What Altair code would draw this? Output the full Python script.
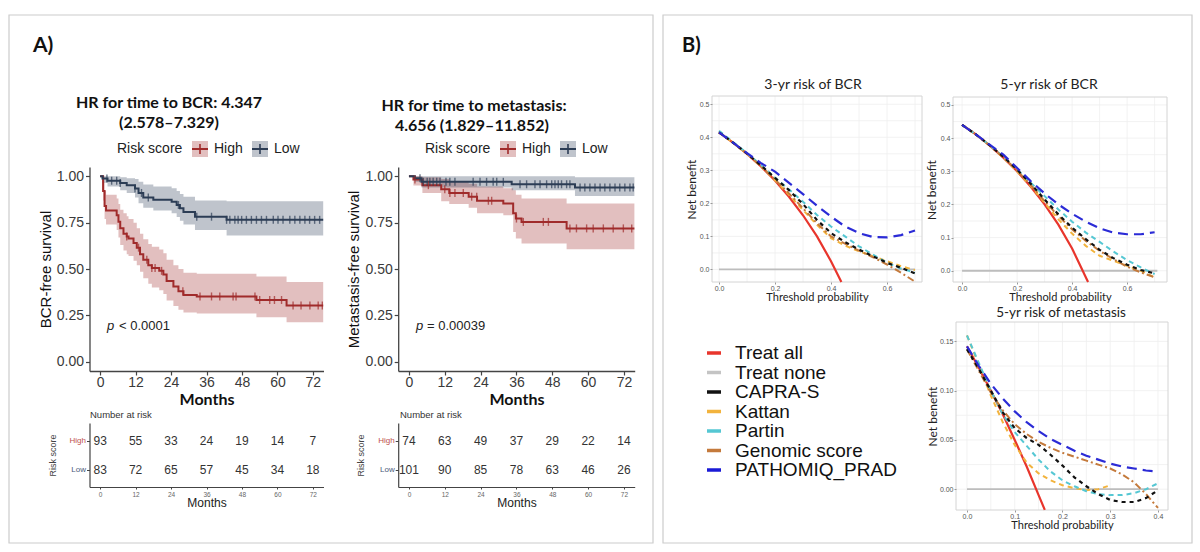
import altair as alt
import pandas as pd

W, H = 1200, 552
LATO = "Lato"
SANS = "Liberation Sans"

# ---------------- Kaplan-Meier step curves (months, survival, lower CI, upper CI) ----------------
bcr_high_t = [0, 1.0, 1.5, 2.0, 5.6, 6.2, 6.8, 7.9, 9.0, 9.6, 11.3, 12.4, 13.5, 14.6, 16.3, 17.5, 20.0, 21.4, 22.5, 24.8, 26.5, 28.2, 32.7, 52.9, 63.1, 75.5]
bcr_high_s = [1.0, 0.92, 0.84, 0.815, 0.79, 0.755, 0.72, 0.69, 0.675, 0.665, 0.64, 0.615, 0.58, 0.55, 0.52, 0.505, 0.49, 0.47, 0.435, 0.405, 0.38, 0.36, 0.352, 0.333, 0.303, 0.303]
bcr_high_lo = [1.0, 0.87, 0.77, 0.74, 0.71, 0.67, 0.63, 0.60, 0.58, 0.57, 0.545, 0.52, 0.485, 0.45, 0.42, 0.40, 0.385, 0.365, 0.33, 0.30, 0.28, 0.265, 0.26, 0.24, 0.213, 0.213]
bcr_high_hi = [1.0, 0.97, 0.92, 0.90, 0.88, 0.85, 0.82, 0.80, 0.785, 0.77, 0.75, 0.72, 0.69, 0.66, 0.635, 0.62, 0.605, 0.585, 0.55, 0.52, 0.50, 0.48, 0.475, 0.46, 0.43, 0.43]

bcr_low_t = [0, 0.8, 2.5, 6.8, 9.0, 11.8, 13.0, 14.6, 18.0, 24.2, 25.9, 27.0, 28.2, 32.1, 42.8, 75.5]
bcr_low_s = [1.0, 0.988, 0.976, 0.964, 0.952, 0.934, 0.91, 0.886, 0.874, 0.862, 0.845, 0.827, 0.808, 0.782, 0.765, 0.765]
bcr_low_lo = [1.0, 0.965, 0.945, 0.925, 0.91, 0.885, 0.855, 0.83, 0.815, 0.80, 0.78, 0.76, 0.74, 0.71, 0.68, 0.68]
bcr_low_hi = [1.0, 1.0, 1.0, 0.995, 0.99, 0.985, 0.97, 0.955, 0.945, 0.935, 0.92, 0.905, 0.89, 0.87, 0.865, 0.865]

met_high_t = [0, 1.5, 4.5, 10.8, 13.5, 20.0, 22.8, 31.6, 34.9, 35.8, 37.7, 52.8, 75.5]
met_high_s = [1.0, 0.983, 0.952, 0.93, 0.91, 0.89, 0.868, 0.853, 0.80, 0.772, 0.754, 0.719, 0.719]
met_high_lo = [1.0, 0.95, 0.91, 0.865, 0.85, 0.83, 0.80, 0.79, 0.70, 0.665, 0.638, 0.606, 0.606]
met_high_hi = [1.0, 1.0, 0.995, 0.985, 0.975, 0.96, 0.945, 0.935, 0.925, 0.90, 0.88, 0.853, 0.853]

met_low_t = [0, 2.0, 4.2, 34.4, 55.6, 75.5]
met_low_s = [1.0, 0.99, 0.97, 0.957, 0.939, 0.939]
met_low_lo = [1.0, 0.97, 0.94, 0.925, 0.893, 0.893]
met_low_hi = [1.0, 1.0, 1.0, 1.0, 0.995, 0.995]

# censoring times (months)
bcr_high_cens = [9, 13, 15.8, 17.5, 18.6, 20.8, 28, 33.8, 37.7, 40.5, 45, 46, 52.4, 54, 57.4, 59, 61.4, 65.3, 68, 71, 73.8, 75.2]
bcr_low_cens = [2.3, 3.9, 5.6, 6.8, 11.8, 14, 16.3, 26.5, 32.7, 37.7, 42.8, 43.9, 45.6, 46.7, 47.9, 49.5, 51.2, 52.9, 54.6, 56.3, 58.6, 60.2, 61.9, 64.2, 65.9, 67.6, 69.3, 70.9, 72.6, 74.3]
met_high_cens = [2, 6.5, 12, 13.7, 15.4, 18.2, 21, 22.7, 26.6, 27.7, 36, 38.3, 45, 46.7, 53.9, 56.1, 59.5, 61.7, 65.1, 68.4, 71.8, 74.6]
met_low_cens = [3.7, 4.8, 6.1, 7, 8.1, 9.3, 10.4, 12.4, 13.7, 15.4, 21.5, 23.8, 26, 28.2, 29.4, 31.6, 37.2, 39.4, 42.2, 43.9, 46.1, 47.8, 48.9, 50, 51.1, 52.8, 53.9, 57.3, 58.9, 60.6, 62.3, 64, 65.6, 67.3, 69, 70.6, 72.3, 74, 75.1]

# numbers at risk
months_ticks = [0, 12, 24, 36, 48, 60, 72]
bcr_risk_high = [93, 55, 33, 24, 19, 14, 7]
bcr_risk_low = [83, 72, 65, 57, 45, 34, 18]
met_risk_high = [74, 63, 49, 37, 29, 22, 14]
met_risk_low = [101, 90, 85, 78, 63, 46, 26]

# ---------------- decision curves (threshold probability, net benefit) ----------------
models = ["Treat all", "Treat none", "CAPRA-S", "Kattan", "Partin", "Genomic score", "PATHOMIQ_PRAD"]

t_bcr = [0.0, 0.05, 0.1, 0.15, 0.2, 0.25, 0.3, 0.35, 0.4, 0.45, 0.5, 0.55, 0.6, 0.65, 0.7]

bcr3_all_t = [0.0, 0.05, 0.1, 0.15, 0.2, 0.25, 0.3, 0.35, 0.4, 0.437]
bcr3_all = [0.415, 0.384, 0.350, 0.312, 0.269, 0.220, 0.164, 0.100, 0.025, -0.038]
bcr3_none_t = [0.0, 0.7]
bcr3_none = [0.0, 0.0]
bcr3_capra = [0.415, 0.384, 0.351, 0.315, 0.277, 0.24, 0.198, 0.15, 0.11, 0.083, 0.06, 0.04, 0.02, 0.005, -0.012]
bcr3_kattan = [0.415, 0.384, 0.35, 0.312, 0.27, 0.226, 0.18, 0.135, 0.095, 0.072, 0.055, 0.04, 0.025, 0.01, -0.002]
bcr3_partin = [0.42, 0.386, 0.352, 0.316, 0.278, 0.242, 0.205, 0.165, 0.13, 0.10, 0.07, 0.045, 0.02, 0.003, -0.01]
bcr3_genomic = [0.415, 0.384, 0.35, 0.312, 0.272, 0.23, 0.185, 0.14, 0.10, 0.078, 0.057, 0.037, 0.015, -0.01, -0.037]
bcr3_pathomiq = [0.415, 0.384, 0.352, 0.322, 0.296, 0.262, 0.228, 0.193, 0.16, 0.13, 0.11, 0.098, 0.097, 0.104, 0.118]

bcr5_all_t = [0.0, 0.05, 0.1, 0.15, 0.2, 0.25, 0.3, 0.35, 0.4, 0.458]
bcr5_all = [0.44, 0.411, 0.378, 0.341, 0.30, 0.253, 0.20, 0.139, 0.067, -0.034]
bcr5_none_t = [0.0, 0.71]
bcr5_none = [0.0, 0.0]
bcr5_capra = [0.44, 0.411, 0.379, 0.344, 0.305, 0.262, 0.215, 0.17, 0.13, 0.095, 0.063, 0.038, 0.018, 0.002, -0.008]
bcr5_kattan = [0.44, 0.411, 0.378, 0.341, 0.30, 0.255, 0.205, 0.155, 0.112, 0.075, 0.045, 0.03, 0.015, 0.0, -0.02]
bcr5_partin = [0.44, 0.411, 0.379, 0.344, 0.305, 0.265, 0.225, 0.185, 0.148, 0.115, 0.087, 0.058, 0.032, 0.01, -0.01]
bcr5_genomic = [0.44, 0.411, 0.378, 0.342, 0.302, 0.258, 0.21, 0.165, 0.125, 0.09, 0.06, 0.035, 0.012, -0.005, -0.02]
bcr5_pathomiq = [0.44, 0.411, 0.38, 0.35, 0.31, 0.27, 0.233, 0.20, 0.172, 0.148, 0.128, 0.115, 0.11, 0.11, 0.116]

t_met = [0.0, 0.025, 0.05, 0.075, 0.1, 0.125, 0.15, 0.175, 0.2, 0.225, 0.25, 0.275, 0.3, 0.325, 0.35, 0.375, 0.4]
met5_all_t = [0.0, 0.025, 0.05, 0.075, 0.1, 0.125, 0.15, 0.163]
met5_all = [0.145, 0.123, 0.100, 0.076, 0.050, 0.023, -0.006, -0.021]
met5_none_t = [0.0, 0.4]
met5_none = [0.0, 0.0]
met5_capra = [0.142, 0.122, 0.10, 0.078, 0.062, 0.052, 0.045, 0.035, 0.024, 0.012, 0.003, -0.005, -0.011, -0.013, -0.013, -0.009, -0.001]
met5_kattan_t = [0.0, 0.025, 0.05, 0.075, 0.1, 0.125, 0.15, 0.175, 0.2, 0.225, 0.25, 0.275, 0.3]
met5_kattan = [0.156, 0.126, 0.095, 0.068, 0.045, 0.027, 0.016, 0.009, 0.004, 0.001, -0.001, 0.0, 0.004]
met5_partin = [0.156, 0.128, 0.1, 0.076, 0.058, 0.044, 0.03, 0.018, 0.009, 0.003, -0.002, -0.005, -0.006, -0.006, -0.004, 0.0, 0.006]
met5_genomic = [0.142, 0.12, 0.098, 0.08, 0.066, 0.056, 0.048, 0.042, 0.037, 0.033, 0.029, 0.025, 0.021, 0.015, 0.007, -0.005, -0.019]
met5_pathomiq = [0.145, 0.125, 0.107, 0.092, 0.079, 0.068, 0.059, 0.051, 0.045, 0.039, 0.034, 0.030, 0.026, 0.023, 0.021, 0.019, 0.018]

# ---------------- styling ----------------
RED_KM, BLUE_KM = "#a02b2b", "#2c3d55"
line_style = {
    "Treat none": ("#bdbdbd", None, 1.8),
    "Treat all": ("#e8352c", None, 2.2),
    "Kattan": ("#f2b33d", [5, 4], 2.0),
    "Partin": ("#55c7d3", [5, 4], 2.0),
    "Genomic score": ("#c47a3c", [7, 3, 2, 3], 2.0),
    "CAPRA-S": ("#111111", [4, 4], 2.2),
    "PATHOMIQ_PRAD": ("#2b2bd6", [10, 6], 2.2),
}
legend_colors = ["#e8352c", "#c4c4c4", "#111111", "#f2b33d", "#55c7d3", "#c47a3c", "#1a1ad6"]

one = pd.DataFrame({"k": [0]})


def surv_at(ts, ss, c):
    val = ss[0]
    for t, s in zip(ts, ss):
        if t <= c:
            val = s
    return val


def km_curves(groups):
    rows = []
    for name, (t, s, lo, hi) in groups.items():
        for a, b, c, d in zip(t, s, lo, hi):
            rows.append({"t": a, "s": b, "lo": c, "hi": d, "grp": name})
    return pd.DataFrame(rows)


def km_censor(groups, cens):
    rows = []
    for name, times in cens.items():
        t, s = groups[name][0], groups[name][1]
        for c in times:
            rows.append({"t": c, "s": surv_at(t, s, c), "grp": name})
    return pd.DataFrame(rows)


KM_BOTTOM, KM_TOP = 371, 167


def km_xscale(xr):
    return alt.Scale(domain=[-3.6, 75.6], range=xr, nice=False, zero=False)


def km_panel(groups, cens, xr, y_title):
    xs = km_xscale(xr)
    ys = alt.Scale(domain=[-0.05, 1.05], range=[KM_BOTTOM, KM_TOP], nice=False, zero=False)
    cs = alt.Scale(domain=["High", "Low"], range=[RED_KM, BLUE_KM])
    x_axis = alt.Axis(orient="bottom", offset=KM_BOTTOM - H, values=months_ticks, grid=False, zindex=1,
                      labelFlush=False, domainColor="#444", domainWidth=1.3, tickColor="#444",
                      tickSize=4, tickWidth=1.2, labelFont=SANS, labelFontSize=14,
                      labelColor="#3a3a3a", labelPadding=0, title="Months", titleFont=LATO,
                      titleFontSize=16, titleFontWeight="bold", titleColor="#111",
                      titlePadding=2, minExtent=0)
    y_axis = alt.Axis(orient="left", offset=-xr[0], values=[0, 0.25, 0.5, 0.75, 1.0], format=".2f",
                      grid=False, zindex=1, labelFlush=False, domainColor="#444", domainWidth=1.3,
                      tickColor="#444", tickSize=4, tickWidth=1.2, labelFont=SANS, labelFontSize=14,
                      labelColor="#3a3a3a", labelPadding=2, title=y_title, titleFont=SANS,
                      titleFontSize=15, titleFontWeight="normal", titleColor="#111",
                      titlePadding=3, minExtent=0)
    curves = km_curves(groups)
    enc_x = lambda f: alt.X(f, scale=xs, axis=x_axis)
    enc_y = lambda f: alt.Y(f, scale=ys, axis=y_axis, stack=None)
    color = alt.Color("grp:N", scale=cs, legend=None)
    band = alt.Chart(curves).mark_area(interpolate="step-after", opacity=0.3).encode(
        x=enc_x("t:Q"), y=enc_y("lo:Q"), y2="hi:Q", color=color)
    line = alt.Chart(curves).mark_line(interpolate="step-after", strokeWidth=2).encode(
        x=enc_x("t:Q"), y=enc_y("s:Q"), color=color)
    ticks = alt.Chart(km_censor(groups, cens)).mark_tick(orient="vertical", size=8, thickness=1.4).encode(
        x=enc_x("t:Q"), y=enc_y("s:Q"), color=color)
    return alt.layer(band, line, ticks)


def risk_panel(n_high, n_low, xr):
    xs = km_xscale(xr)
    ys = alt.Scale(domain=[0.414, 2.62], range=[487, 423], nice=False, zero=False)
    df = pd.DataFrame({"t": months_ticks + months_ticks, "row": [2] * 7 + [1] * 7, "n": n_high + n_low})
    x_axis = alt.Axis(orient="bottom", offset=487 - H, values=months_ticks, grid=False, zindex=1,
                      labelFlush=False, domainColor="#444", domainWidth=1.2, tickColor="#444", tickSize=2,
                      labelFont=SANS, labelFontSize=6.5, labelColor="#666", labelPadding=2,
                      title="Months", titleFont=SANS, titleFontSize=12, titleFontWeight="normal",
                      titleColor="#222", titlePadding=0, minExtent=0)
    y_axis = alt.Axis(orient="left", offset=-xr[0], values=[1, 2], grid=False, zindex=1, labelFlush=False,
                      labelExpr="datum.value == 2 ? 'High' : 'Low'",
                      labelColor={"condition": {"test": "datum.value == 2", "value": "#c0504d"},
                                  "value": "#4a5a7a"},
                      domainColor="#444", domainWidth=1.2, tickColor="#444", tickSize=3,
                      labelFont=SANS, labelFontSize=8, labelPadding=1, title="Risk score",
                      titleFont=SANS, titleFontSize=9, titleFontWeight="normal", titleColor="#444",
                      titlePadding=12, minExtent=0)
    return alt.Chart(df).mark_text(font=SANS, fontSize=12, color="#333").encode(
        x=alt.X("t:Q", scale=xs, axis=x_axis),
        y=alt.Y("row:Q", scale=ys, axis=y_axis),
        text="n:Q",
    )


def dca_panel(curves, xdom, xr, ydom, yr, xt, xgrid, yt, ygrid, xfmt, yfmt, ypad):
    xs = alt.Scale(domain=xdom, range=list(xr), nice=False, zero=False)
    ys = alt.Scale(domain=ydom, range=list(yr), nice=False, zero=False)
    x_axis = alt.Axis(orient="bottom", offset=yr[0] - H, values=xt, format=xfmt, grid=False, zindex=1,
                      labelFlush=False, domain=False, tickColor="#999", tickSize=2,
                      labelFont=SANS, labelFontSize=7, labelColor="#555", labelPadding=0,
                      title="Threshold probability", titleFont=LATO, titleFontSize=11,
                      titleFontWeight="normal", titleColor="#222", titlePadding=0, minExtent=0)
    y_axis = alt.Axis(orient="left", offset=-xr[0], values=yt, format=yfmt, grid=False, zindex=1,
                      labelFlush=False, domain=False, tickColor="#999", tickSize=2,
                      labelFont=SANS, labelFontSize=7, labelColor="#555", labelPadding=1,
                      title="Net benefit", titleFont=LATO, titleFontSize=12,
                      titleFontWeight="normal", titleColor="#222", titlePadding=ypad, minExtent=0)
    enc_x = lambda f: alt.X(f, scale=xs, axis=x_axis)
    enc_y = lambda f: alt.Y(f, scale=ys, axis=y_axis)
    frame_df = pd.DataFrame({"x0": [xdom[0]], "x1": [xdom[1]], "y0": [ydom[0]], "y1": [ydom[1]]})
    frame = alt.Chart(frame_df).mark_rect(fillOpacity=0, stroke="#d4d4d4", strokeWidth=1).encode(
        x=enc_x("x0:Q"), x2="x1:Q", y=enc_y("y0:Q"), y2="y1:Q")
    vg = pd.DataFrame({"v": xgrid, "lo": ydom[0], "hi": ydom[1]})
    hg = pd.DataFrame({"v": ygrid, "lo": xdom[0], "hi": xdom[1]})
    vgrid = alt.Chart(vg).mark_rule(color="#efefef", strokeWidth=0.8).encode(
        x=enc_x("v:Q"), y=enc_y("lo:Q"), y2="hi:Q")
    hgrid = alt.Chart(hg).mark_rule(color="#efefef", strokeWidth=0.8).encode(
        y=enc_y("v:Q"), x=enc_x("lo:Q"), x2="hi:Q")
    layers = [vgrid, hgrid, frame]
    for name in ["Treat none", "Treat all", "Kattan", "Partin", "Genomic score", "CAPRA-S", "PATHOMIQ_PRAD"]:
        t, nb = curves[name]
        color, dash, width = line_style[name]
        kw = dict(color=color, strokeWidth=width)
        if dash:
            kw["strokeDash"] = dash
        df = pd.DataFrame({"t": t, "nb": nb})
        layers.append(alt.Chart(df).mark_line(**kw).encode(x=enc_x("t:Q"), y=enc_y("nb:Q")))
    return alt.layer(*layers)


def text(label, x, y, size, font=SANS, weight="normal", align="left", style="normal", color="#111"):
    return alt.Chart(one).mark_text(text=label, font=font, fontSize=size, fontWeight=weight,
                                    align=align, baseline="middle", fontStyle=style,
                                    color=color).encode(x=alt.value(x), y=alt.value(y))


def rect(x0, x1, y0, y1, fill="white", stroke=None, sw=1, opacity=1):
    kw = dict(fill=fill, fillOpacity=opacity)
    if stroke:
        kw.update(stroke=stroke, strokeWidth=sw)
    return alt.Chart(one).mark_rect(**kw).encode(
        x=alt.value(x0), x2=alt.value(x1), y=alt.value(y0), y2=alt.value(y1))


def hrule(x0, x1, y, color, sw):
    return alt.Chart(one).mark_rule(color=color, strokeWidth=sw).encode(
        x=alt.value(x0), x2=alt.value(x1), y=alt.value(y))


def vrule(x, y0, y1, color, sw):
    return alt.Chart(one).mark_rule(color=color, strokeWidth=sw).encode(
        x=alt.value(x), y=alt.value(y0), y2=alt.value(y1))


def km_legend(x0, y):
    parts = [text("Risk score", x0, y, 14, color="#222")]
    for dx, label, col in [(83, "High", RED_KM), (143, "Low", BLUE_KM)]:
        cx = x0 + dx
        parts += [
            rect(cx - 8, cx + 8, y - 8, y + 8, fill=col, opacity=0.3),
            hrule(cx - 8, cx + 8, y, col, 2),
            vrule(cx, y - 5, y + 5, col, 1.6),
            text(label, cx + 14, y, 14, color="#222"),
        ]
    return parts


# ---------------- assemble ----------------
bcr_groups = {"High": (bcr_high_t, bcr_high_s, bcr_high_lo, bcr_high_hi),
              "Low": (bcr_low_t, bcr_low_s, bcr_low_lo, bcr_low_hi)}
met_groups = {"High": (met_high_t, met_high_s, met_high_lo, met_high_hi),
              "Low": (met_low_t, met_low_s, met_low_lo, met_low_hi)}

XR_BCR = [89.5, 323.5]
XR_MET = [398.2, 634.7]

dca3 = {"Treat all": (bcr3_all_t, bcr3_all), "Treat none": (bcr3_none_t, bcr3_none),
        "CAPRA-S": (t_bcr, bcr3_capra), "Kattan": (t_bcr, bcr3_kattan), "Partin": (t_bcr, bcr3_partin),
        "Genomic score": (t_bcr, bcr3_genomic), "PATHOMIQ_PRAD": (t_bcr, bcr3_pathomiq)}
dca5 = {"Treat all": (bcr5_all_t, bcr5_all), "Treat none": (bcr5_none_t, bcr5_none),
        "CAPRA-S": (t_bcr, bcr5_capra), "Kattan": (t_bcr, bcr5_kattan), "Partin": (t_bcr, bcr5_partin),
        "Genomic score": (t_bcr, bcr5_genomic), "PATHOMIQ_PRAD": (t_bcr, bcr5_pathomiq)}
dcam = {"Treat all": (met5_all_t, met5_all), "Treat none": (met5_none_t, met5_none),
        "CAPRA-S": (t_met, met5_capra), "Kattan": (met5_kattan_t, met5_kattan), "Partin": (t_met, met5_partin),
        "Genomic score": (t_met, met5_genomic), "PATHOMIQ_PRAD": (t_met, met5_pathomiq)}

bcr_xt = [0.0, 0.2, 0.4, 0.6]
bcr_xg = [0.0, 0.1, 0.2, 0.3, 0.4, 0.5, 0.6, 0.7]
bcr_yt = [0.0, 0.1, 0.2, 0.3, 0.4, 0.5]
bcr_yg = [0.0, 0.05, 0.1, 0.15, 0.2, 0.25, 0.3, 0.35, 0.4, 0.45, 0.5]
met_xt = [0.0, 0.1, 0.2, 0.3, 0.4]
met_xg = [0.0, 0.05, 0.1, 0.15, 0.2, 0.25, 0.3, 0.35, 0.4]
met_yt = [0.0, 0.05, 0.1, 0.15]
met_yg = [0.0, 0.025, 0.05, 0.075, 0.1, 0.125, 0.15]

legend_df = pd.DataFrame({"model": models})
leg_y = alt.Scale(type="point", domain=models, range=[353, 470], padding=0)
leg_c = alt.Scale(domain=models, range=legend_colors)
legend_text = alt.Chart(legend_df).mark_text(font=SANS, fontSize=19, align="left", baseline="middle",
                                             color="#111").encode(
    x=alt.value(735), y=alt.Y("model:N", scale=leg_y, axis=None), text="model:N")
legend_swatch = alt.Chart(legend_df).mark_rule(strokeWidth=3.5).encode(
    x=alt.value(707), x2=alt.value(721), y=alt.Y("model:N", scale=leg_y, axis=None),
    color=alt.Color("model:N", scale=leg_c, legend=None))

layers = [
    rect(9, 653, 15, 543, stroke="#cccccc", sw=1.2, opacity=0),
    rect(663, 1192, 15, 543, stroke="#cccccc", sw=1.2, opacity=0),
    text("A)", 33, 46, 21, font=LATO, weight="bold"),
    text("B)", 682, 46, 20, font=LATO, weight="bold"),
    # panel A: biochemical recurrence
    text("HR for time to BCR: 4.347", 169, 103, 16, font=LATO, weight="bold", align="center"),
    text("(2.578\u20137.329)", 169, 123, 16, font=LATO, weight="bold", align="center"),
    *km_legend(117, 149),
    km_panel(bcr_groups, {"High": bcr_high_cens, "Low": bcr_low_cens}, XR_BCR, "BCR-free survival"),
    text("p", 107, 326, 13, style="italic", color="#222"),
    text("< 0.0001", 119, 326, 13, color="#222"),
    text("Number at risk", 90, 415, 9.5, color="#333"),
    risk_panel(bcr_risk_high, bcr_risk_low, XR_BCR),
    # panel A: metastasis
    text("HR for time to metastasis:", 474, 106, 16, font=LATO, weight="bold", align="center"),
    text("4.656 (1.829\u201311.852)", 472, 126, 16, font=LATO, weight="bold", align="center"),
    *km_legend(425, 149),
    km_panel(met_groups, {"High": met_high_cens, "Low": met_low_cens}, XR_MET, "Metastasis-free survival"),
    text("p", 416, 326, 13, style="italic", color="#222"),
    text("= 0.00039", 427, 326, 13, color="#222"),
    text("Number at risk", 400, 415, 9.5, color="#333"),
    risk_panel(met_risk_high, met_risk_low, XR_MET),
    # panel B: decision curves
    text("3-yr risk of BCR", 813, 85, 14, font=LATO, align="center", color="#222"),
    dca_panel(dca3, [-0.025, 0.725], (712, 922), [-0.038, 0.525], (282, 96),
              bcr_xt, bcr_xg, bcr_yt, bcr_yg, ".1f", ".1f", 1),
    text("5-yr risk of BCR", 1049, 85, 14, font=LATO, align="center", color="#222"),
    dca_panel(dca5, [-0.033, 0.745], (953, 1167), [-0.034, 0.524], (282, 97),
              bcr_xt, bcr_xg, bcr_yt, bcr_yg, ".1f", ".1f", 2),
    text("5-yr risk of metastasis", 1061, 313, 13.5, font=LATO, align="center", color="#222"),
    dca_panel(dcam, [-0.023, 0.421], (956, 1168), [-0.0211, 0.1697], (510, 322),
              met_xt, met_xg, met_yt, met_yg, ".1f", ".2f", 0),
    legend_swatch,
    legend_text,
]

chart = alt.layer(*layers).resolve_scale(
    x="independent", y="independent", color="independent"
).properties(
    width=W, height=H, autosize=alt.AutoSizeParams(type="none"), padding=0, background="white"
).configure_view(strokeWidth=0)

chart.save("out.html", embed_options={"renderer": "svg", "actions": False})
